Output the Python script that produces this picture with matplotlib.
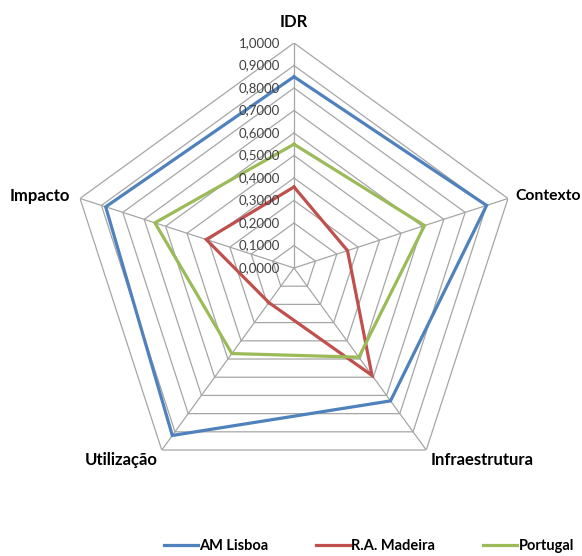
import numpy as np
import matplotlib
matplotlib.use("Agg")
import matplotlib.pyplot as plt

plt.rcParams['font.family'] = ['Lato', 'DejaVu Sans']

categories = ["IDR", "Contexto", "Infraestrutura", "Utilização", "Impacto"]
am_lisboa = [0.85, 0.90, 0.73, 0.92, 0.88]
ra_madeira = [0.36, 0.25, 0.59, 0.19, 0.41]
portugal = [0.55, 0.61, 0.49, 0.47, 0.65]
series_names = ["AM Lisboa", "R.A. Madeira", "Portugal"]
series_colors = ["#4F81BD", "#C0504D", "#9BBB59"]
ring_values = np.round(np.arange(0, 1.01, 0.1), 1)
tick_labels = [f"{v:.4f}".replace(".", ",") for v in ring_values]

W, H = 582, 556
fig = plt.figure(figsize=(W / 100, H / 100), dpi=100)
cx, cy, R = 294, 268, 225
ax = fig.add_axes([(cx - R) / W, (H - cy - R) / H, 2 * R / W, 2 * R / H],
                  projection="polar")
ax.set_theta_offset(np.pi / 2)
ax.set_theta_direction(-1)
ax.set_ylim(0, 1)
ax.grid(False)
ax.spines["polar"].set_visible(False)
ax.set_xticks([])
ax.set_yticks([])
ax.patch.set_alpha(0)

n = len(categories)
theta = np.linspace(0, 2 * np.pi, n, endpoint=False)
theta_c = np.append(theta, theta[0])

grid_color = "#A6A6A6"
for v in ring_values[1:]:
    ax.plot(theta_c, [v] * (n + 1), color=grid_color, lw=0.9, zorder=1)
for t in theta:
    ax.plot([t, t], [0, 1], color=grid_color, lw=0.9, zorder=1)

for vals, name, col in zip([am_lisboa, ra_madeira, portugal], series_names, series_colors):
    ax.plot(theta_c, list(vals) + [vals[0]], color=col, lw=2.3, label=name,
            zorder=3, solid_joinstyle="miter")

for v, lab in zip(ring_values, tick_labels):
    ax.annotate(lab, xy=(0, v), xytext=(-10, 0), textcoords="offset points",
                ha="right", va="center", fontsize=9.5, color="#404040", zorder=4)

# label offsets (points) and font size for each axis end
label_style = {
    "IDR": (0, 15, "center", 12),
    "Contexto": (5.0, 1.8, "left", 11.3),
    "Infraestrutura": (40.5, -7.5, "center", 12),
    "Utilização": (-29.5, -7.5, "center", 12),
    "Impacto": (-7.2, 1.8, "right", 12),
}
for t, cat in zip(theta, categories):
    dx, dy, ha, fs = label_style[cat]
    ax.annotate(cat, xy=(t, 1), xytext=(dx, dy), textcoords="offset points",
                ha=ha, va="center", fontsize=fs, fontweight="bold", color="black")

fig.legend(loc="center", bbox_to_anchor=(369 / W, 1 - 546 / H), ncol=3,
           frameon=False, handlelength=2.3, handletextpad=0.1,
           columnspacing=3.3, prop={"weight": "bold", "size": 10.5})

fig.savefig("out.png", dpi=100)
